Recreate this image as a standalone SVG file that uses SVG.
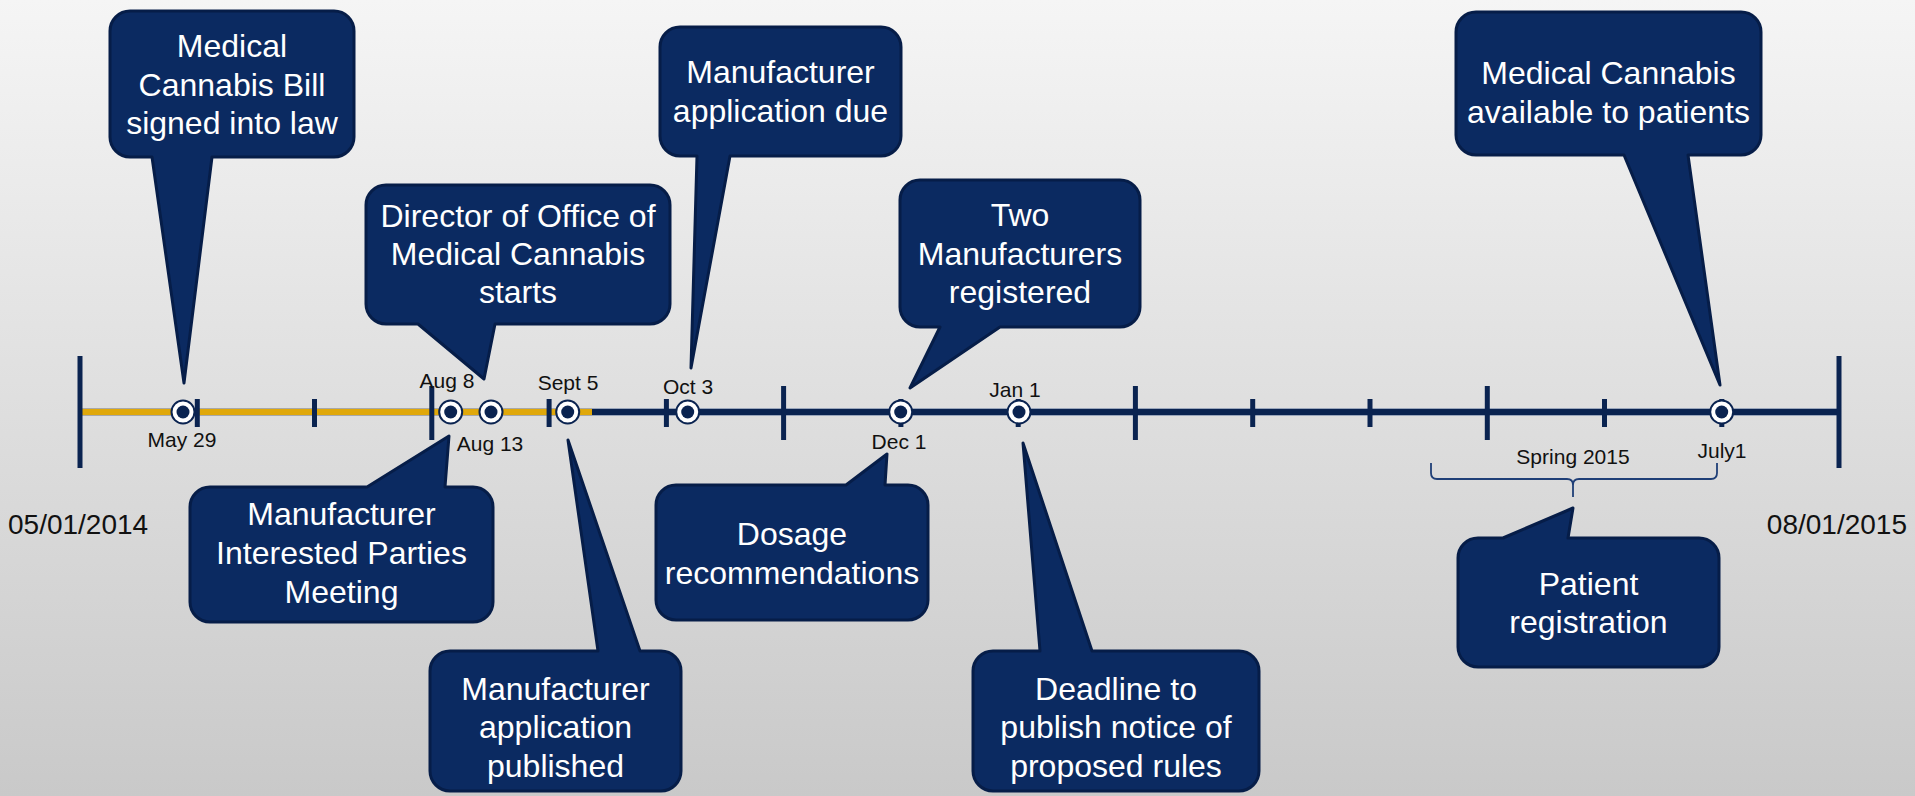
<svg xmlns="http://www.w3.org/2000/svg" width="1915" height="796" viewBox="0 0 1915 796">
<defs>
<linearGradient id="bg" x1="0" y1="0" x2="0" y2="1">
<stop offset="0" stop-color="#f5f5f5"/>
<stop offset="1" stop-color="#c9c9c9"/>
</linearGradient>
<style>
.co{fill:#0b2a61;stroke:#061d48;stroke-width:3;stroke-linejoin:round}
.ct{font-family:"Liberation Sans",Arial,sans-serif;font-size:32px;fill:#ffffff;text-anchor:middle}
.tl{font-family:"Liberation Sans",Arial,sans-serif;font-size:21px;fill:#111111;text-anchor:middle}
.big{font-family:"Liberation Sans",Arial,sans-serif;font-size:28px;fill:#111111}
.tk{stroke:#0a2350;stroke-width:5}
.ring{fill:#ffffff;stroke:#0a2350;stroke-width:2}
.dot{fill:#0a2350}
</style>
</defs>
<rect x="0" y="0" width="1915" height="796" fill="url(#bg)"/>

<g id="axis">
<line x1="80" y1="412" x2="1839" y2="412" stroke="#9aa6bb" stroke-width="8"/>
<line x1="80" y1="412" x2="1839" y2="412" stroke="#0a2350" stroke-width="6"/>
<line x1="80" y1="412" x2="592" y2="412" stroke="#a8a8a8" stroke-width="8"/>
<line x1="80" y1="412" x2="592" y2="412" stroke="#e0a80a" stroke-width="6"/>
<line class="tk" x1="80" y1="356" x2="80" y2="468"/>
<line class="tk" x1="1839" y1="356" x2="1839" y2="468"/>
<line class="tk" x1="431.8" y1="386" x2="431.8" y2="440"/>
<line class="tk" x1="783.6" y1="386" x2="783.6" y2="440"/>
<line class="tk" x1="1135.4" y1="386" x2="1135.4" y2="440"/>
<line class="tk" x1="1487.3" y1="386" x2="1487.3" y2="440"/>
<line class="tk" x1="197.3" y1="399" x2="197.3" y2="427"/>
<line class="tk" x1="314.5" y1="399" x2="314.5" y2="427"/>
<line class="tk" x1="549.1" y1="399" x2="549.1" y2="427"/>
<line class="tk" x1="666.4" y1="399" x2="666.4" y2="427"/>
<line class="tk" x1="900.9" y1="399" x2="900.9" y2="427"/>
<line class="tk" x1="1018.2" y1="399" x2="1018.2" y2="427"/>
<line class="tk" x1="1252.7" y1="399" x2="1252.7" y2="427"/>
<line class="tk" x1="1370" y1="399" x2="1370" y2="427"/>
<line class="tk" x1="1604.5" y1="399" x2="1604.5" y2="427"/>
<line class="tk" x1="1721.8" y1="399" x2="1721.8" y2="427"/>
<text class="big" x="8" y="534">05/01/2014</text>
<text class="big" x="1907" y="534" text-anchor="end">08/01/2015</text>
</g>

<g id="markers">
<circle class="ring" cx="183" cy="412" r="11.5"/><circle class="dot" cx="183" cy="412" r="6.5"/>
<circle class="ring" cx="450.7" cy="412" r="11.5"/><circle class="dot" cx="450.7" cy="412" r="6.5"/>
<circle class="ring" cx="491" cy="412" r="11.5"/><circle class="dot" cx="491" cy="412" r="6.5"/>
<circle class="ring" cx="567.7" cy="412" r="11.5"/><circle class="dot" cx="567.7" cy="412" r="6.5"/>
<circle class="ring" cx="687.7" cy="412" r="11.5"/><circle class="dot" cx="687.7" cy="412" r="6.5"/>
<circle class="ring" cx="900.7" cy="412" r="11.5"/><circle class="dot" cx="900.7" cy="412" r="6.5"/>
<circle class="ring" cx="1019" cy="412" r="11.5"/><circle class="dot" cx="1019" cy="412" r="6.5"/>
<circle class="ring" cx="1721.7" cy="412" r="11.5"/><circle class="dot" cx="1721.7" cy="412" r="6.5"/>
</g>

<g id="labels">
<text class="tl" x="182" y="447">May 29</text>
<text class="tl" x="447" y="388">Aug 8</text>
<text class="tl" x="490" y="451">Aug 13</text>
<text class="tl" x="568" y="390">Sept 5</text>
<text class="tl" x="688" y="394">Oct 3</text>
<text class="tl" x="899" y="449">Dec 1</text>
<text class="tl" x="1015" y="397">Jan 1</text>
<text class="tl" x="1722" y="458">July1</text>
<text class="tl" x="1573" y="464">Spring 2015</text>
</g>

<g id="brace">
<path d="M1431,463 V473 Q1431,479 1437,479 H1567 Q1573,479 1573,485 V497 M1573,485 Q1573,479 1579,479 H1711 Q1717,479 1717,473 V463" fill="none" stroke="#1f3f77" stroke-width="1.8"/>
</g>

<g id="callout-bill">
<path class="co" d="M130,11 H334 A20,20 0 0 1 354,31 V137 A20,20 0 0 1 334,157 H212 L184,383 L152,157 H130 A20,20 0 0 1 110,137 V31 A20,20 0 0 1 130,11 Z"/>
<text class="ct" x="232" y="57">Medical</text>
<text class="ct" x="232" y="95.5">Cannabis Bill</text>
<text class="ct" x="232" y="134">signed into law</text>
</g>

<g id="callout-director">
<path class="co" d="M386,185 H650 A20,20 0 0 1 670,205 V304 A20,20 0 0 1 650,324 H495 L484,379 L418,324 H386 A20,20 0 0 1 366,304 V205 A20,20 0 0 1 386,185 Z"/>
<text class="ct" x="518" y="226.7">Director of Office of</text>
<text class="ct" x="518" y="265">Medical Cannabis</text>
<text class="ct" x="518" y="303.3">starts</text>
</g>

<g id="callout-appdue">
<path class="co" d="M680,27 H881 A20,20 0 0 1 901,47 V136 A20,20 0 0 1 881,156 H730 L691,368 L697,156 H680 A20,20 0 0 1 660,136 V47 A20,20 0 0 1 680,27 Z"/>
<text class="ct" x="780.5" y="83">Manufacturer</text>
<text class="ct" x="780.5" y="121.5">application due</text>
</g>

<g id="callout-two">
<path class="co" d="M920,180 H1120 A20,20 0 0 1 1140,200 V307 A20,20 0 0 1 1120,327 H1000 L910,388 L940,327 H920 A20,20 0 0 1 900,307 V200 A20,20 0 0 1 920,180 Z"/>
<text class="ct" x="1020" y="226">Two</text>
<text class="ct" x="1020" y="264.5">Manufacturers</text>
<text class="ct" x="1020" y="303">registered</text>
</g>

<g id="callout-available">
<path class="co" d="M1476,12 H1741 A20,20 0 0 1 1761,32 V135 A20,20 0 0 1 1741,155 H1688 L1720,385 L1624,155 H1476 A20,20 0 0 1 1456,135 V32 A20,20 0 0 1 1476,12 Z"/>
<text class="ct" x="1608.5" y="84">Medical Cannabis</text>
<text class="ct" x="1608.5" y="122.5">available to patients</text>
</g>

<g id="callout-meeting">
<path class="co" d="M210,487 H367 L449,436 L445,487 H473 A20,20 0 0 1 493,507 V602 A20,20 0 0 1 473,622 H210 A20,20 0 0 1 190,602 V507 A20,20 0 0 1 210,487 Z"/>
<text class="ct" x="341.5" y="525">Manufacturer</text>
<text class="ct" x="341.5" y="564">Interested Parties</text>
<text class="ct" x="341.5" y="602.7">Meeting</text>
</g>

<g id="callout-published">
<path class="co" d="M450,651 H598 L568,440 L640,651 H661 A20,20 0 0 1 681,671 V771 A20,20 0 0 1 661,791 H450 A20,20 0 0 1 430,771 V671 A20,20 0 0 1 450,651 Z"/>
<text class="ct" x="555.5" y="700">Manufacturer</text>
<text class="ct" x="555.5" y="738.4">application</text>
<text class="ct" x="555.5" y="776.8">published</text>
</g>

<g id="callout-dosage">
<path class="co" d="M676,485 H846 L887,454 L885,485 H908 A20,20 0 0 1 928,505 V600 A20,20 0 0 1 908,620 H676 A20,20 0 0 1 656,600 V505 A20,20 0 0 1 676,485 Z"/>
<text class="ct" x="792" y="545">Dosage</text>
<text class="ct" x="792" y="584">recommendations</text>
</g>

<g id="callout-deadline">
<path class="co" d="M993,651 H1040 L1023,443 L1092,651 H1239 A20,20 0 0 1 1259,671 V771 A20,20 0 0 1 1239,791 H993 A20,20 0 0 1 973,771 V671 A20,20 0 0 1 993,651 Z"/>
<text class="ct" x="1116" y="700">Deadline to</text>
<text class="ct" x="1116" y="738.4">publish notice of</text>
<text class="ct" x="1116" y="776.8">proposed rules</text>
</g>

<g id="callout-patient">
<path class="co" d="M1478,538 H1503 L1573,508 L1568,538 H1699 A20,20 0 0 1 1719,558 V647 A20,20 0 0 1 1699,667 H1478 A20,20 0 0 1 1458,647 V558 A20,20 0 0 1 1478,538 Z"/>
<text class="ct" x="1588.5" y="595">Patient</text>
<text class="ct" x="1588.5" y="633.3">registration</text>
</g>
</svg>
